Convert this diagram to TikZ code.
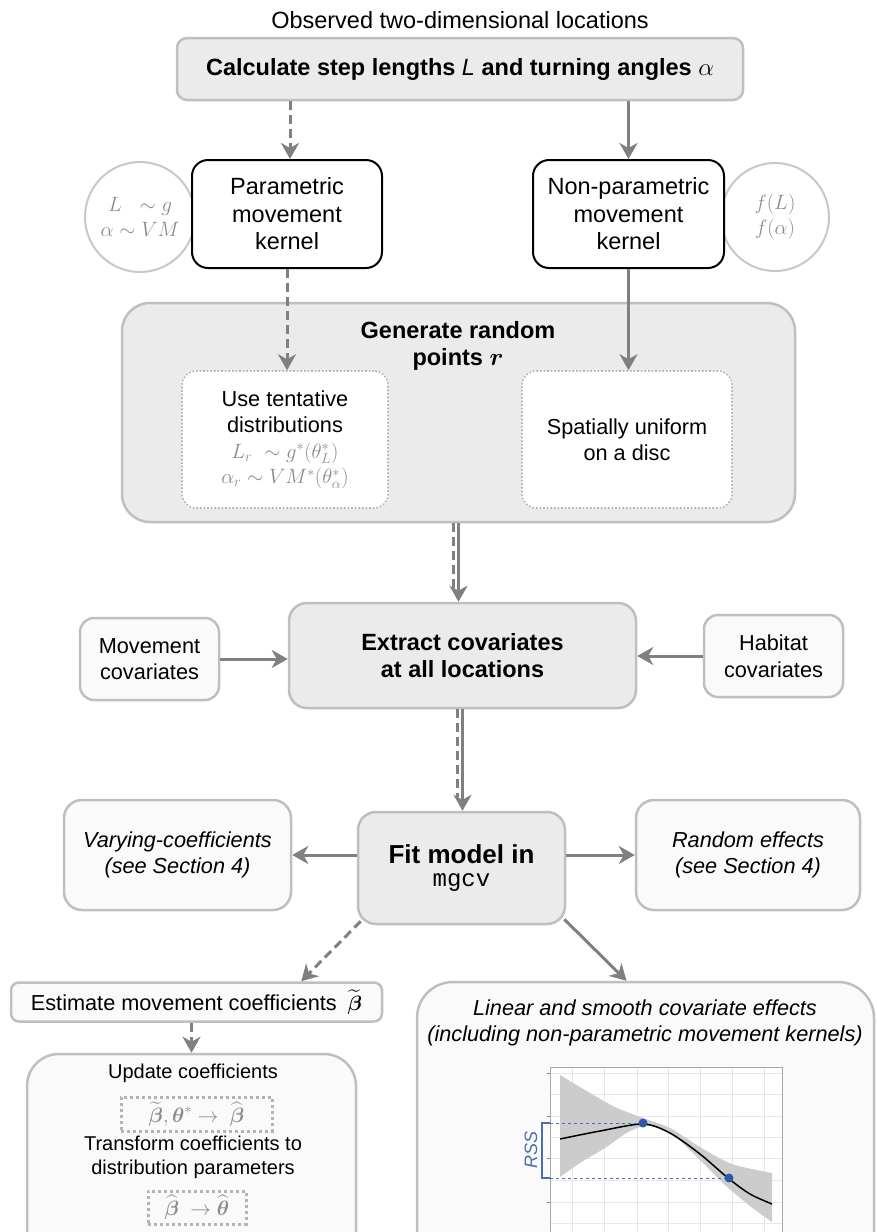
\documentclass[tikz,border=0pt]{standalone}
\usepackage{amsmath,amssymb}
\usepackage{fontspec}
\setmainfont{Liberation Sans}
\setmonofont{Liberation Mono}
\usetikzlibrary{arrows.meta,calc}
\definecolor{arrgray}{HTML}{808080}
\definecolor{bordergray}{HTML}{BFBFBF}
\definecolor{boxgray}{HTML}{EBEBEB}
\definecolor{lightfill}{HTML}{FAFAFA}
\definecolor{circgray}{HTML}{C8C8C8}
\definecolor{mathgray}{HTML}{8C8C8C}
\definecolor{dotgray}{HTML}{B4B4B4}
\definecolor{gridc}{HTML}{E6E6E6}
\definecolor{bandc}{HTML}{CCCCCC}
\definecolor{bluec}{HTML}{4A6FB0}
\definecolor{dotc}{HTML}{2D5AA5}
\tikzset{
  arr/.style={draw=arrgray, line width=3pt, -{Stealth[length=16pt,width=18pt,inset=5pt]}},
  darr/.style={arr, dash pattern=on 9pt off 5pt},
  dline/.style={draw=arrgray, line width=3pt, dash pattern=on 9pt off 5pt},
  fbig/.style={font=\fontsize{23.5}{27.5}\selectfont},
  fmid/.style={font=\fontsize{21.7}{26.5}\selectfont},
  fsmall/.style={font=\fontsize{20}{24}\selectfont},
  graybox/.style={draw=bordergray, fill=boxgray, line width=2.5pt, rounded corners=10pt, align=center, inner sep=0pt},
  lightbox/.style={draw=bordergray, fill=lightfill, line width=2.5pt, rounded corners=14pt, align=center, inner sep=0pt},
  blackbox/.style={draw=black, fill=white, line width=2pt, rounded corners=16pt, align=center, inner sep=0pt, fbig},
  dotbox/.style={draw=dotgray, fill=white, line width=1.6pt, dotted, rounded corners=14pt, align=center, inner sep=0pt},
  mathbox/.style={draw=dotgray, line width=3pt, dash pattern=on 3pt off 3pt, align=center, inner sep=0pt, text=mathgray, fsmall},
  circ/.style={circle, draw=circgray, fill=white, line width=2pt, align=center, inner sep=0pt, text=mathgray, fmid},
  txt/.style={align=center, inner sep=0pt}
}
\begin{document}
\begin{tikzpicture}[x=1pt,y=-1pt]
\useasboundingbox (0,0) rectangle (876,1232);
\fill[white] (0,0) rectangle (876,1232);
\clip (0,0) rectangle (876,1232);

% top
\node[txt, fbig] (obs) at (460,20) {Observed two-dimensional locations};
\node[graybox, fbig, minimum width=566pt, minimum height=62pt] (top) at (460,69)
  {\bfseries Calculate step lengths {\mdseries\itshape L} and turning angles $\alpha$};

% kernels
\node[circ, minimum size=110pt] (cL) at (140,217) {$L\ \ \sim g$\\[-2pt]$\alpha\sim VM$};
\node[circ, minimum size=108pt] (cR) at (775,217) {$f(L)$\\[-2pt]$f(\alpha)$};
\node[blackbox, minimum width=190pt, minimum height=108pt] (par) at (287,214) {Parametric\\movement\\kernel};
\node[blackbox, minimum width=191pt, minimum height=108pt] (npar) at (628.5,214) {Non-parametric\\movement\\kernel};

% generate
\node[graybox, rounded corners=28pt, minimum width=673pt, minimum height=219pt] (gen) at (458.5,412.5) {};
\node[txt, fbig] (gent) at (458,346) {\bfseries Generate random\\\bfseries points $\boldsymbol{r}$};
\node[dotbox, fmid, minimum width=206pt, minimum height=137pt] (inL) at (285,439.5)
  {Use tentative\\distributions\\[-1pt]\textcolor{mathgray}{$L_r\ \sim g^{*}(\theta_L^{*})$}\\[-1pt]\textcolor{mathgray}{$\alpha_r\sim VM^{*}(\theta_\alpha^{*})$}};
\node[dotbox, fmid, minimum width=210pt, minimum height=137pt] (inR) at (627,439.5) {Spatially uniform\\on a disc};

% extract
\node[graybox, fbig, rounded corners=18pt, minimum width=347pt, minimum height=105pt] (ext) at (462.5,655.5)
  {\bfseries Extract covariates\\\bfseries at all locations};
\node[lightbox, fmid, minimum width=139pt, minimum height=82pt] (movc) at (149.5,659) {Movement\\covariates};
\node[lightbox, fmid, minimum width=139pt, minimum height=82pt] (hab) at (773.5,656) {Habitat\\covariates};

% fit
\node[graybox, rounded corners=18pt, minimum width=207pt, minimum height=112pt] (fit) at (461.5,868)
  {{\fontsize{26}{30}\selectfont\bfseries Fit model in}\\[9pt]{\fontsize{24}{28}\selectfont\ttfamily mgcv}};
\node[lightbox, fmid, rounded corners=18pt, minimum width=227pt, minimum height=110pt] (vary) at (177.5,855)
  {\itshape Varying-coefficients\\\itshape (see Section 4)};
\node[lightbox, fmid, rounded corners=18pt, minimum width=224pt, minimum height=110pt] (rand) at (748,855)
  {\itshape Random effects\\\itshape (see Section 4)};

% bottom left
\node[lightbox, fmid, rounded corners=8pt, minimum width=371pt, minimum height=39pt] (est) at (196.5,1002)
  {Estimate movement coefficients\enspace$\widetilde{\boldsymbol{\beta}}$};
\node[lightbox, rounded corners=32pt, minimum width=329pt, minimum height=210pt] (upd) at (191.5,1159) {};
\node[txt, fsmall] (updt) at (193,1073) {Update coefficients};
\node[mathbox, minimum width=151pt, minimum height=34pt] (m1) at (196.5,1114)
  {$\widetilde{\boldsymbol{\beta}},\boldsymbol{\theta}^{*}\rightarrow\ \widehat{\boldsymbol{\beta}}$};
\node[txt, fsmall] (trt) at (193,1157) {Transform coefficients to\\distribution parameters};
\node[mathbox, minimum width=98pt, minimum height=33pt] (m2) at (197,1207.5)
  {$\widehat{\boldsymbol{\beta}}\ \rightarrow\widehat{\boldsymbol{\theta}}$};

% bottom right
\node[lightbox, rounded corners=36pt, minimum width=457pt, minimum height=290pt] (lin) at (645.5,1127) {};
\node[txt, fmid] (lint) at (645,1023)
  {\itshape Linear and smooth covariate effects\\\itshape (including non-parametric movement kernels)};

% plot
\fill[white] (550,1067) rectangle (782,1250);
\foreach \x in {572,604,637,668,700,732,764} \draw[gridc, line width=0.8pt] (\x,1067) -- (\x,1250);
\foreach \y in {1073,1094,1116,1137,1158,1180,1202,1223} \draw[gridc, line width=0.8pt] (550,\y) -- (782,\y);
\foreach \y in {1073,1116,1158,1202} \draw[gray, line width=0.6pt] (547,\y) -- (550,\y);
\fill[bandc] plot[smooth] coordinates {(560,1075) (585,1090) (615,1107) (643,1118) (670,1128) (700,1147) (732,1164) (772,1173)}
  -- plot[smooth] coordinates {(772,1222) (750,1206) (725,1185) (700,1160) (675,1137) (650,1126) (630,1131) (605,1148) (580,1163) (560,1177)} -- cycle;
\draw[black, line width=1.5pt] plot[smooth] coordinates {(560,1139) (600,1131) (643,1124) (670,1133) (700,1154) (728,1178) (750,1194) (772,1204)};
\draw[gray!70, line width=1pt] (550,1067) rectangle (782,1250);
\draw[bluec, dashed, line width=1pt] (550,1123) -- (643,1123);
\draw[bluec, dashed, line width=1pt] (550,1178) -- (729,1178);
\draw[bluec, line width=1.2pt] (550,1123) -- (542,1123) -- (542,1178) -- (550,1178);
\fill[dotc] (643,1123) circle (4.5);
\fill[dotc] (729,1178) circle (4.5);
\node[txt, rotate=90, text=bluec, font=\fontsize{18}{20}\selectfont\itshape] (rss) at (531,1150) {RSS};

% connectors
\draw[darr] (top.south -| 290,0) -- (par.north -| 290,0);
\draw[arr] (top.south -| npar.north) -- (npar.north);
\draw[darr] (par.south) -- (par.south |- inL.north);
\draw[arr] (npar.south) -- (npar.south |- inR.north);
\draw[dline] ([xshift=-5pt]gen.south) -- ([xshift=-5pt,yshift=14pt]gen.south |- ext.north);
\draw[arr] (gen.south) -- (gen.south |- ext.north);
\draw[dline] ([xshift=-5pt]ext.south) -- ([xshift=-5pt,yshift=14pt]ext.south |- fit.north);
\draw[arr] (ext.south) -- (ext.south |- fit.north);
\draw[arr] (movc.east) -- (movc.east -| ext.west);
\draw[arr] (hab.west) -- (hab.west -| ext.east);
\draw[arr] (fit.west |- vary.east) -- (vary.east);
\draw[arr] (fit.east |- rand.west) -- (rand.west);
\draw[darr] ([shift={(4pt,4pt)}]fit.south west) -- ([xshift=-82pt]est.north east);
\draw[arr] ([shift={(-2pt,6pt)}]fit.south east) -- ([xshift=-19pt]lin.north);
\draw[darr] (upd.north |- est.south) -- (upd.north);
\end{tikzpicture}
\end{document}
